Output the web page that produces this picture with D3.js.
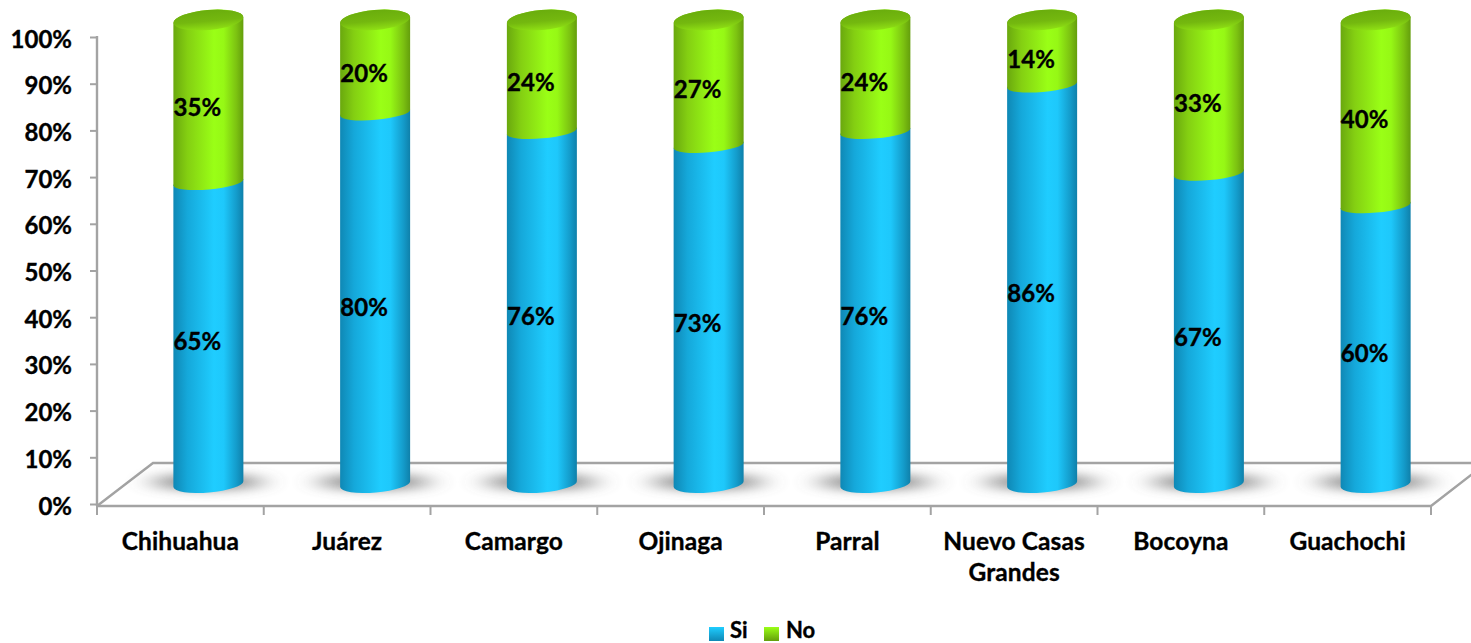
<!DOCTYPE html>
<html><head><meta charset="utf-8">
<script src="https://cdn.jsdelivr.net/npm/d3@7"></script>
<style>html,body{margin:0;padding:0;background:#fff;overflow:hidden}svg{display:block}
text{font-family:Lato,"Open Sans",sans-serif;font-weight:700;fill:#000;stroke:#000;stroke-width:.35px}</style>
</head><body><svg id="c" width="1471" height="643"></svg>
<script>
const categories=["Chihuahua","Juárez","Camargo","Ojinaga","Parral","Nuevo Casas Grandes","Bocoyna","Guachochi"];
const si=[65,80,76,73,76,86,67,60];
const no=[35,20,24,27,24,14,33,40];
const ticks=[0,10,20,30,40,50,60,70,80,90,100];
const seriesNames=["Si","No"];

const svg=d3.select("#c");
const y=d3.scaleLinear().domain([0,100]).range([504,37]);
const yBar=d3.scaleLinear().domain([0,100]).range([484,20]);
const x=d3.scaleBand().domain(categories).range([97,1431]);
const depthX=28, rx=35, ryTop=10, rySeg=7, ryBase=8.5, tilt=-5, grey="#a3a3a3";
const cx=c=>x(c)+x.bandwidth()/2+depthX;

const defs=svg.append("defs");
function grad(id,stops,vertical){
  const g=defs.append("linearGradient").attr("id",id).attr("x1",0).attr("y1",0)
    .attr("x2",vertical?0:1).attr("y2",vertical?1:0);
  stops.forEach(s=>g.append("stop").attr("offset",s[0]).attr("stop-color",s[1]));
}
grad("blue",[[0,"#0f88b5"],[.2,"#15a8da"],[.58,"#1fcdff"],[.72,"#1ec8fb"],[.9,"#149ccb"],[1,"#0f80aa"]]);
grad("green",[[0,"#6aa80e"],[.2,"#84cf12"],[.58,"#9aff16"],[.72,"#96f815"],[.9,"#7cc211"],[1,"#649e0c"]]);
grad("top",[[0,"#6aad0d"],[.55,"#74b80f"],[1,"#8fe014"]],true);
grad("lblue",[[0,"#1fcdff"],[1,"#0f88b5"]],true);
grad("lgreen",[[0,"#9aff16"],[1,"#649e0c"]],true);
defs.append("filter").attr("id","blur").attr("x","-60%").attr("y","-300%").attr("width","220%").attr("height","700%")
  .append("feGaussianBlur").attr("stdDeviation","14 6");

// floor
const xEnd=x.range()[1], x0=x.range()[0];
const floor=svg.append("g").attr("fill","none").attr("stroke",grey).attr("stroke-width",2.4);
floor.append("path").attr("d",`M${x0},506L${x0+56},463L1475,463`);
floor.append("path").attr("d",`M${x0},506L${xEnd},506L${xEnd+44},472`);

// x ticks
svg.append("g").attr("stroke",grey).attr("stroke-width",2)
  .selectAll("line").data(d3.range(categories.length+1)).join("line")
  .attr("x1",i=>x0+i*x.step()).attr("x2",i=>x0+i*x.step()).attr("y1",506).attr("y2",515);

// y axis
const axis=svg.append("g").attr("transform",`translate(${x0},0)`)
  .call(d3.axisLeft(y).tickValues(ticks).tickFormat(d=>d+"%").tickSize(7).tickPadding(18));
axis.selectAll("path").attr("stroke",grey).attr("stroke-width",2.4).attr("d",`M0,36V506`);
axis.selectAll("line").attr("stroke",grey).attr("stroke-width",2);
axis.selectAll("text").style("font-size","24px").attr("dy","0.42em").attr("fill","#000");

// shadows
svg.append("g").selectAll("ellipse").data(categories).join("ellipse")
  .attr("cx",c=>cx(c)-1).attr("cy",482).attr("rx",56).attr("ry",7)
  .attr("fill","#555").attr("opacity",.75).attr("filter","url(#blur)");

// cylinders
function seg(c,v0,v1){
  const l=cx(c)-rx,r=cx(c)+rx,dy=rx*Math.tan(-tilt*Math.PI/180);
  const a=yBar(v0),b=yBar(v1),rb=v0===0?ryBase:rySeg,rt=v1>=100?ryTop:rySeg;
  return `M${l},${b+dy}L${l},${a+dy}A${rx},${rb} ${tilt} 0 0 ${r},${a-dy}L${r},${b-dy}A${rx},${rt} ${tilt} 1 0 ${l},${b+dy}Z`;
}
const bars=svg.append("g").selectAll("g").data(categories).join("g");
bars.append("path").attr("d",(c,i)=>seg(c,0,si[i])).attr("fill","url(#blue)");
bars.append("path").attr("d",(c,i)=>seg(c,si[i],si[i]+no[i])).attr("fill","url(#green)");
bars.append("ellipse").attr("cx",0).attr("cy",0).attr("rx",rx).attr("ry",ryTop)
  .attr("transform",(c,i)=>`translate(${cx(c)},${yBar(si[i]+no[i])}) rotate(${tilt})`)
  .attr("fill","url(#top)");

// value labels
const lab=(c,v0,v1,off)=>svg.append("text").attr("x",cx(c)-11).attr("y",(yBar(v0)+yBar(v1))/2+off)
  .attr("dy","0.38em").attr("text-anchor","middle").style("font-size","24px").text(v1-v0+"%");
categories.forEach((c,i)=>{lab(c,0,si[i],8);lab(c,si[i],si[i]+no[i],6);});

// category labels
const wrapped={"Nuevo Casas Grandes":["Nuevo Casas","Grandes"]};
categories.forEach(c=>{
  (wrapped[c]||[c]).forEach((t,j)=>svg.append("text")
    .attr("x",x(c)+x.bandwidth()/2).attr("y",541+j*31).attr("dy","0.35em")
    .attr("text-anchor","middle").style("font-size","24.5px").style("letter-spacing","0.1px").text(t));
});

// legend
const lx=[709,764], lg=["lblue","lgreen"], tx=[730,786];
seriesNames.forEach((n,i)=>{
  svg.append("rect").attr("x",lx[i]).attr("y",627).attr("width",15).attr("height",14).attr("fill",`url(#${lg[i]})`);
  svg.append("text").attr("x",tx[i]).attr("y",638).style("font-size","22px").text(n);
});
</script></body></html>
